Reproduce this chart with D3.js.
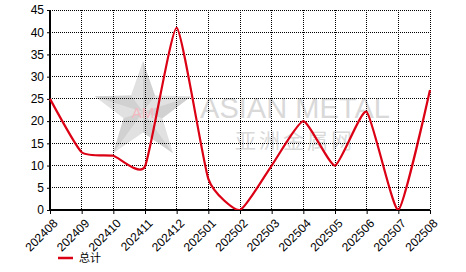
<!DOCTYPE html>
<html>
<head>
<meta charset="utf-8">
<script src="https://cdnjs.cloudflare.com/ajax/libs/d3/7.8.5/d3.min.js"></script>
<style>
  body { margin: 0; background: #fff; }
  svg { display: block; font-family: "Liberation Sans", Arial, sans-serif; }
  .grid line { stroke: #000; stroke-dasharray: 1,1; shape-rendering: crispEdges; }
</style>
</head>
<body>
<div id="chart"></div>
<script>
  // months and values
  var months = ["202408", "202409", "202410", "202411", "202412", "202501", "202502",
    "202503", "202504", "202505", "202506", "202507", "202508"];
  var totals = [25, 13, 12.2, 9.8, 41, 7, 0, 10, 20, 10, 22.1, 0, 27];
  var yTicks = [0, 5, 10, 15, 20, 25, 30, 35, 40, 45];
  var seriesName = "总计";

  var width = 466, height = 272;
  var margin = {top: 10, right: 36, bottom: 62, left: 50};
  var plotW = width - margin.left - margin.right,
    plotH = height - margin.top - margin.bottom;

  var svg = d3.select("#chart").append("svg")
    .attr("width", width)
    .attr("height", height);

  var x = d3.scalePoint().domain(months).range([0, plotW]);
  var y = d3.scaleLinear().domain([0, 45]).range([plotH, 0]);

  svg.append("defs").append("clipPath")
    .attr("id", "plotClip")
    .append("rect")
    .attr("x", -1).attr("y", -2)
    .attr("width", plotW + 2).attr("height", plotH + 2);

  var g = svg.append("g")
    .attr("transform", "translate(" + margin.left + "," + margin.top + ")");

  //watermark: star + text
  var wm = g.append("g").attr("class", "watermark");
  var starC = [93, 102], starR = 51;
  var starPts = d3.range(10).map(function (i) {
    var r = i % 2 ? starR * 0.4 : starR;
    var a = -Math.PI / 2 + i * Math.PI / 5;
    return [starC[0] + r * Math.cos(a), starC[1] + r * Math.sin(a)];
  });
  wm.append("polygon")
    .attr("points", starPts.map(function (p) { return p.join(","); }).join(" "))
    .style("fill", "#d4d4d4")
    .style("opacity", 0.7);
  // darker facets
  starPts.forEach(function (p, i) {
    if (i % 2) return;
    var q = starPts[(i + 1) % 10];
    wm.append("polygon")
      .attr("points", [starC, p, q].map(function (d) { return d.join(","); }).join(" "))
      .style("fill", "#b8b8b8")
      .style("opacity", 0.4);
  });
  wm.append("text")
    .attr("x", starC[0]).attr("y", starC[1] + 6)
    .attr("text-anchor", "middle")
    .style("font-size", "15px")
    .style("fill", "#f4b8bf")
    .text("AM");
  wm.append("text")
    .attr("x", 150).attr("y", 108)
    .attr("textLength", 190)
    .style("font-size", "29px")
    .style("fill", "#d3d3d3")
    .style("opacity", 0.85)
    .text("ASIAN METAL");
  wm.append("text")
    .attr("x", 185).attr("y", 138)
    .style("font-family", "'Noto Sans CJK SC', sans-serif")
    .style("font-size", "21px")
    .style("letter-spacing", "3px")
    .style("fill", "#d3d3d3")
    .style("opacity", 0.85)
    .text("亚洲金属网");

  // grid
  var grid = g.append("g").attr("class", "grid");
  grid.selectAll(".hg")
    .data(yTicks.filter(function (d) { return d > 0; }))
    .enter().append("line")
    .attr("x1", 0).attr("x2", plotW)
    .attr("y1", function (d) { return y(d); })
    .attr("y2", function (d) { return y(d); });
  grid.selectAll(".vg")
    .data(months.slice(1))
    .enter().append("line")
    .attr("y1", 0).attr("y2", plotH)
    .attr("x1", function (d) { return x(d); })
    .attr("x2", function (d) { return x(d); });

  // axes
  var yAxis = g.append("g")
    .call(d3.axisLeft(y).tickValues(yTicks).tickSize(3).tickPadding(3));
  var xAxis = g.append("g")
    .attr("transform", "translate(0," + plotH + ")")
    .call(d3.axisBottom(x).tickSize(4).tickPadding(3));
  [yAxis, xAxis].forEach(function (ax) {
    ax.select(".domain").attr("stroke-width", 2);
    ax.selectAll(".tick line").attr("stroke-width", 1);
    ax.selectAll("text").style("font-size", "12px").style("fill", "#000");
    ax.attr("font-family", null);
  });
  xAxis.selectAll(".domain").attr("d", "M0,0H" + plotW);
  yAxis.selectAll(".domain").attr("d", "M0," + plotH + "V0");
  xAxis.selectAll("text")
    .attr("text-anchor", "end")
    .attr("dy", null)
    .attr("y", 0)
    .attr("transform", "translate(8,14) rotate(-45)");

  // line
  var line = d3.line()
    .x(function (d, i) { return x(months[i]); })
    .y(function (d) { return y(d); })
    .curve(d3.curveCardinal.tension(0.5));

  g.append("path")
    .datum(totals)
    .attr("clip-path", "url(#plotClip)")
    .attr("d", line)
    .style("fill", "none")
    .style("stroke", "#dc0014")
    .style("stroke-width", 2.2);

  // legend
  var legend = svg.append("g")
    .attr("transform", "translate(58,258)");
  legend.append("line")
    .attr("x1", 0).attr("x2", 15)
    .style("stroke", "#dc0014")
    .style("stroke-width", 2.5);
  legend.append("text")
    .attr("x", 21).attr("y", 4)
    .style("font-family", "'Noto Sans CJK SC', sans-serif")
    .style("font-size", "11px")
    .text(seriesName);
</script>
</body>
</html>
